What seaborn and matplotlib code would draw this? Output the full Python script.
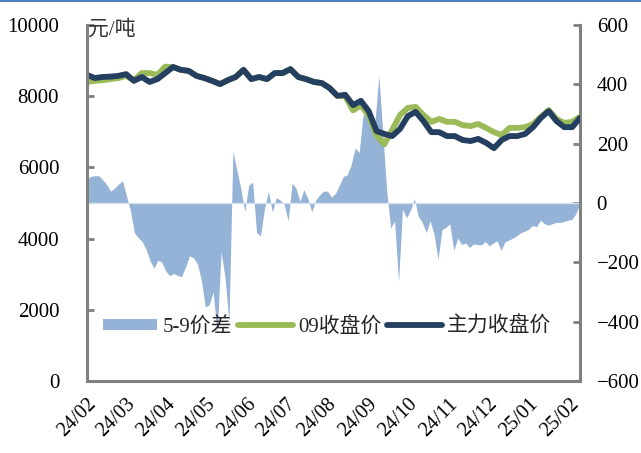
import matplotlib
matplotlib.use("Agg")
import pandas as pd
import matplotlib.pyplot as plt
import matplotlib.dates as mdates
from matplotlib.lines import Line2D
from matplotlib.patches import Patch
import seaborn as sns

# date span of the chart
start, end = "2024-02-01", "2025-02-09"

# 主力收盘价 (元/吨), roughly every 6 days
main_price = [
    8600, 8510, 8540, 8550, 8570, 8620, 8430, 8540, 8400, 8480,
    8650, 8820, 8740, 8710, 8570, 8510, 8430, 8340, 8450, 8540,
    8740, 8480, 8540, 8480, 8650, 8650, 8760, 8540, 8480, 8400,
    8370, 8230, 8010, 8040, 7750, 7870, 7580, 7020, 6940, 6880,
    7080, 7440, 7560, 7300, 6990, 6990, 6880, 6880, 6770, 6740,
    6800, 6690, 6540, 6770, 6880, 6880, 6940, 7130, 7390, 7580,
    7300, 7130, 7130, 7390,
]

# 09收盘价 (元/吨), same dates
price_09 = [
    8400, 8430, 8450, 8480, 8510, 8570, 8450, 8650, 8650, 8600,
    8830, 8820, 8740, 8710, 8570, 8510, 8430, 8340, 8450, 8540,
    8740, 8480, 8540, 8480, 8650, 8650, 8760, 8540, 8480, 8400,
    8370, 8230, 8010, 8000, 7600, 7750, 7450, 6900, 6650, 7050,
    7470, 7670, 7700, 7470, 7280, 7360, 7280, 7280, 7190, 7160,
    7220, 7110, 6990, 6910, 7110, 7110, 7130, 7220, 7420, 7610,
    7360, 7250, 7280, 7420,
]

# 5-9价差 (元/吨, right axis), every 3 days
spread_59 = [
    80, 90, 92, 92, 78, 62, 40, 50, 64, 75,
    25, -25, -100, -117, -130, -157, -195, -220, -193, -200,
    -230, -245, -237, -245, -248, -215, -178, -185, -205, -260,
    -350, -343, -300, -440, -165, -250, -404, 175, 110, 50,
    -30, 60, 70, -100, -110, -20, 40, -30, 18, 10,
    -5, -60, 67, 50, 5, 45, 15, -30, 10, 27,
    40, 40, 20, 32, 60, 90, 95, 130, 185, 170,
    297, 295, 295, 270, 430, 236, 40, -85, -60, -266,
    -20, -50, -25, 15, -45, -65, -100, -60, -105, -190,
    -90, -82, -70, -160, -118, -140, -135, -150, -138, -140,
    -141, -130, -145, -135, -128, -160, -130, -125, -118, -110,
    -100, -95, -88, -76, -80, -58, -70, -75, -70, -65,
    -66, -62, -58, -55, -35, 0,
]

colors = {"5-9价差": "#95B3D7", "09收盘价": "#9BBB59", "主力收盘价": "#243F60"}

sns.set_style("white")
plt.rcParams["font.family"] = ["Liberation Serif", "Noto Sans CJK SC", "DejaVu Sans"]
plt.rcParams["axes.unicode_minus"] = True

price_dates = pd.date_range(start, end, periods=len(main_price))
spread_dates = pd.date_range(start, end, periods=len(spread_59))

prices = pd.DataFrame({"date": price_dates, "09收盘价": price_09, "主力收盘价": main_price})
prices = prices.melt(id_vars="date", var_name="series", value_name="price")
spread = pd.DataFrame({"date": spread_dates, "spread": spread_59})

fig, ax = plt.subplots(figsize=(6.41, 4.53), dpi=100)
fig.subplots_adjust(left=0.1357, right=0.9048, top=0.9448, bottom=0.159)
ax2 = ax.twinx()

# spread area on the right axis, drawn behind the price lines
ax2.fill_between(spread["date"], 0, spread["spread"], color=colors["5-9价差"], lw=0)
ax2.axhline(0, color="#D6E1EF", lw=1)
ax2.set_ylim(-600, 600)
ax2.set_yticks(range(-600, 601, 200))

sns.lineplot(data=prices, x="date", y="price", hue="series",
             palette={k: colors[k] for k in ["09收盘价", "主力收盘价"]},
             linewidth=4.2, ax=ax, legend=False)
ax.set_zorder(ax2.get_zorder() + 1)
ax.patch.set_visible(False)

ax.set_ylim(0, 10000)
ax.set_yticks(range(0, 10001, 2000))
ax.set_xlim(pd.Timestamp(start), pd.Timestamp(end))
ax.xaxis.set_major_locator(mdates.MonthLocator())
ax.xaxis.set_major_formatter(mdates.DateFormatter("%y/%m"))
ax.set_xlabel("")
ax.set_ylabel("")

grey = "#808080"
for a in (ax, ax2):
    for side in ("left", "right", "bottom"):
        a.spines[side].set_color(grey)
        a.spines[side].set_linewidth(2.2)
    a.spines["top"].set_visible(False)
    a.tick_params(direction="in", length=5, width=2, color=grey,
                  labelsize=15, labelcolor="#000000")
ax2.spines["left"].set_visible(False)
ax2.spines["bottom"].set_visible(False)
ax.spines["right"].set_visible(False)
ax.tick_params(axis="y", pad=20)
ax2.tick_params(axis="y", pad=12)
ax.tick_params(axis="x", pad=10)
for lab in ax.get_xticklabels():
    lab.set_rotation(45)
    lab.set_ha("right")
    lab.set_va("top")
    lab.set_rotation_mode("anchor")
    lab.set_fontsize(14.5)

ax.text(0.003, 0.985, "元/吨", transform=ax.transAxes, fontsize=15,
        ha="left", va="center", color="#333333")

handles = [
    Patch(facecolor=colors["5-9价差"], edgecolor="none", label="5-9价差"),
    Line2D([], [], color=colors["09收盘价"], lw=4.2, solid_capstyle="round", label="09收盘价"),
    Line2D([], [], color=colors["主力收盘价"], lw=4.2, solid_capstyle="round", label="主力收盘价"),
]
ax.legend(handles=handles, ncol=3, frameon=False, loc="center left",
          bbox_to_anchor=(-0.005, 0.152), fontsize=15, handlelength=2.6,
          handletextpad=0.25, columnspacing=0.3, handleheight=0.5)

fig.add_artist(Line2D([0, 1], [0.998, 0.998], transform=fig.transFigure,
                      color="#4F81BD", lw=1.5))

fig.savefig("out.png", dpi=100)
